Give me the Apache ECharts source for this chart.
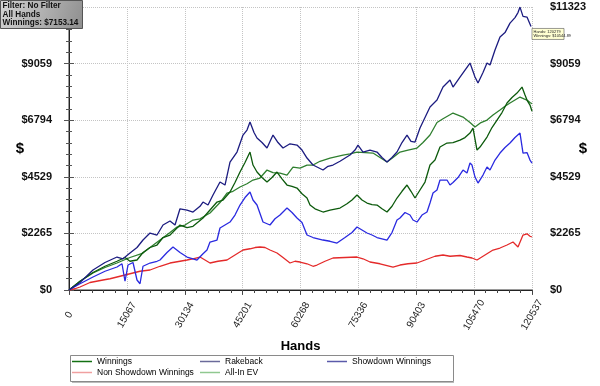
<!DOCTYPE html>
<html><head><meta charset="utf-8">
<script src="https://cdn.jsdelivr.net/npm/echarts@6/dist/echarts.min.js"></script>
<style>html,body{margin:0;padding:0;background:#fff}#c{width:600px;height:386px}</style>
</head><body><div id="c"></div>
<script>
const xTickLabels = ['0','15067','30134','45201','60268','75336','90403','105470','120537'];
const yTickLabels = ['$0','$2265','$4529','$6794','$9059','$11323'];
const X_MAX = 120537, Y_MAX = 11323.3;

const rakeback = [[0,0],[2864,300],[6248,800],[9372,1100],[12496,1320],[14058,1250],[15881,1480],[17703,1700],[19265,2000],[21088,2280],[22910,2200],[24472,2600],[26294,2760],[27596,2600],[28898,3250],[30720,3200],[32282,3120],[34105,3350],[34886,3520],[36187,3400],[37489,3800],[39311,4320],[40613,4200],[41915,5120],[43737,5520],[45299,6200],[46341,6400],[47121,6720],[48163,6300],[48944,6080],[50246,5900],[51547,5680],[53109,6200],[54411,5900],[55713,5680],[57535,5850],[59358,5800],[60659,5600],[61961,5280],[63523,5000],[64825,4900],[66126,4800],[67428,4950],[68730,5000],[70552,5150],[73154,5400],[74456,5600],[75237,5800],[76539,5520],[78362,5600],[80184,5520],[81486,5300],[82788,5120],[84089,5300],[85391,5520],[86693,5900],[87995,6200],[89036,5950],[90078,5920],[91379,6480],[92681,6900],[93983,7320],[95805,7600],[97367,8120],[99189,8400],[99971,8120],[101793,8520],[103095,8800],[104396,9080],[105698,8520],[106479,8280],[107781,8700],[108823,9080],[109604,9000],[110906,9600],[112207,10120],[113509,10300],[114810,10680],[116112,10900],[116893,11100],[117413,11320],[118194,10950],[119236,10920],[120279,10545]];

const showdown = [[0,0],[2864,250],[6248,520],[9372,750],[12496,920],[13798,1050],[14579,350],[15360,1000],[16662,1100],[17703,400],[18484,250],[19265,950],[21088,1080],[22910,1150],[23691,1200],[25513,1500],[27075,1720],[28898,1500],[30720,1320],[32282,1250],[33324,1200],[34886,1450],[35927,1600],[36708,1920],[38530,2000],[39311,2480],[40613,2600],[41915,2720],[43216,3000],[44518,3400],[45820,3700],[47121,3920],[47902,3600],[48944,3400],[50506,2720],[52328,2600],[53630,2850],[54932,3000],[56755,3280],[58056,3100],[59358,2880],[60659,2700],[61961,2200],[63523,2100],[64825,2050],[66126,2000],[67949,1950],[69771,1880],[71853,2100],[73675,2300],[74977,2520],[76278,2400],[77581,2280],[78883,2200],[80184,2100],[81486,2050],[82788,2000],[84089,2300],[85391,2800],[86172,2880],[87474,3100],[88776,3000],[89557,2800],[90598,2720],[91900,3000],[93202,3120],[93983,3480],[94764,3880],[95805,4000],[96586,4400],[98409,4400],[99189,4200],[99971,4300],[101272,4500],[102574,4800],[103615,4680],[104396,5080],[104917,5000],[105698,4520],[106479,4280],[107781,4600],[108823,4920],[109604,4800],[110906,5200],[112207,5480],[113509,5700],[114810,5880],[116112,6100],[117413,6280],[118194,5480],[119236,5500],[120016,5200],[120537,5080]];

const nonShowdown = [[0,0],[1562,50],[2864,120],[5467,300],[8852,400],[10674,450],[12496,520],[14579,600],[16662,680],[18484,750],[21088,800],[23691,950],[26294,1080],[28898,1150],[30720,1200],[32282,1250],[34105,1320],[35406,1200],[36708,1080],[38791,1150],[41134,1200],[43216,1400],[45299,1600],[47121,1650],[48423,1700],[49725,1720],[51027,1700],[52328,1600],[54151,1480],[55713,1300],[57535,1080],[58837,1150],[60138,1120],[61961,1050],[63523,950],[64564,1000],[66647,1150],[68730,1280],[71853,1300],[74977,1320],[76539,1250],[78362,1120],[80965,1050],[84350,920],[86172,1000],[88255,1050],[90598,1080],[92681,1200],[95284,1350],[97367,1400],[99189,1350],[101793,1380],[103615,1320],[104917,1280],[106219,1200],[108302,1400],[110385,1600],[112207,1680],[114029,1800],[115591,1920],[116893,1720],[117413,1800],[118194,2200],[119236,2250],[120016,2150],[120537,2120]];

const winnings = [[0,0],[2864,350],[6248,700],[9372,950],[12496,1150],[14579,1300],[15881,1150],[17703,1200],[19265,1500],[21088,1700],[22910,1800],[24472,2100],[26294,2200],[28898,2600],[30720,2500],[32282,2550],[34886,2880],[36708,3200],[38530,3520],[40092,3600],[41915,3920],[43216,4300],[44518,4720],[45820,5100],[47121,5520],[47902,5000],[48944,4720],[50246,4500],[51547,4320],[52849,4500],[54151,4720],[55453,4450],[56755,4200],[58056,4150],[59358,4080],[60659,3850],[61961,3680],[62742,3400],[64044,3250],[66126,3120],[67949,3200],[70552,3280],[72374,3450],[73675,3600],[74977,3800],[76278,3600],[77581,3480],[78883,3420],[80184,3400],[81486,3250],[82788,3120],[84089,3350],[85391,3680],[86693,3950],[87995,4200],[89036,3950],[90078,3680],[91379,4000],[92681,4320],[93983,5000],[95284,5200],[96586,5720],[98409,5880],[99971,5900],[101793,6000],[103095,6100],[104396,6280],[105177,6480],[106219,5600],[107000,5720],[108823,6120],[110125,6500],[111427,6800],[112728,7100],[114029,7480],[115331,7700],[116632,7880],[117934,8120],[118715,7800],[119236,7600],[120016,7400],[120537,7153]];

const allInEV = [[0,0],[2864,350],[6248,680],[9372,900],[12496,1080],[15881,1300],[19265,1480],[21088,1700],[23691,2000],[26294,2300],[28117,2520],[30199,2600],[32282,2800],[34105,2850],[36708,3080],[39311,3500],[41134,3880],[42696,3950],[44518,4120],[46341,4250],[47902,4400],[49725,4480],[51547,4800],[53109,4700],[54932,4680],[56755,4600],[58316,4920],[60138,4880],[61961,5000],[63523,5000],[65345,5150],[67949,5280],[71333,5400],[73154,5450],[74977,5520],[77060,5500],[79143,5480],[80965,5300],[82788,5120],[84350,5300],[86172,5520],[88255,5600],[90598,5680],[92160,5900],[93983,6200],[95805,6700],[97367,6850],[99971,7080],[101272,7000],[102574,6920],[104396,6700],[105698,6520],[107261,6700],[108823,6800],[110385,7000],[112207,7200],[113509,7350],[114810,7480],[116112,7600],[117413,7720],[118455,7650],[119236,7600],[120016,7500],[120537,7450]];

const infoLines = ['Filter: No Filter','All Hands','Winnings: $7153.14'];
const hoverPoint = [120279, 10544.89];
const hoverLines = ['Hands: 120279','Winnings: $10544.89'];

const FONT = 'Arial, "Liberation Sans", sans-serif';
const xInt = X_MAX / 8, yInt = Y_MAX / 5;
const chart = echarts.init(document.getElementById('c'));

const lineColors = {
  'Winnings': '#0c5a0c',
  'Rakeback': '#1c1c80',
  'Showdown Winnings': '#2a2ae0',
  'Non Showdown Winnings': '#e42a2a',
  'All-In EV': '#2f7f2f'
};
const legendColors = {
  'Winnings': '#137013',
  'Rakeback': '#6a6a9a',
  'Showdown Winnings': '#5a5aaa',
  'Non Showdown Winnings': '#f0a0a0',
  'All-In EV': '#90c890'
};
function mkLegend(names, left) {
  return {
    orient: 'vertical', left: left, top: 356, itemGap: 0,
    icon: 'rect', itemWidth: 20, itemHeight: 1.5,
    textStyle: { fontFamily: FONT, fontSize: 8.5, color: '#000', lineHeight: 11, padding: [0,0,0,0] },
    padding: 0,
    data: names.map(n => ({ name: n, itemStyle: { color: legendColors[n] } }))
  };
}
function mkSeries(name, data, z) {
  return { name, type: 'line', data, showSymbol: false, symbol: 'none', z,
    lineStyle: { width: 1.3, color: lineColors[name] }, itemStyle: { color: lineColors[name] } };
}
const yBase = {
  type: 'value', min: 0, max: Y_MAX, interval: yInt,
  nameMoveOverlap: false,
  nameTextStyle: { fontFamily: FONT, fontSize: 15, fontWeight: 'bold', color: '#000', align: 'center', verticalAlign: 'middle' },
  axisLabel: { fontFamily: FONT, fontSize: 11, fontWeight: 'bold', color: '#111',
    formatter: v => yTickLabels[Math.round(v / yInt)] ?? '' },
  minorTick: { show: true, splitNumber: 5, length: 3, lineStyle: { color: '#555' } },
  axisTick: { show: true, length: 5, lineStyle: { color: '#555' } }
};
const option = {
  animation: false,
  backgroundColor: '#fff',
  grid: { left: 69, right: 68, top: 7, bottom: 96, containLabel: false },
  xAxis: [{
    type: 'value', min: 0, max: X_MAX, interval: xInt, position: 'bottom',
    name: 'Hands', nameLocation: 'middle', nameGap: 50, nameMoveOverlap: false,
    nameTextStyle: { fontFamily: FONT, fontSize: 13, fontWeight: 'bold', color: '#000' },
    axisLine: { show: true, lineStyle: { color: '#9a9a9a', width: 2 } },
    axisTick: { show: true, length: 5, lineStyle: { color: '#555' } },
    minorTick: { show: true, splitNumber: 5, length: 3, lineStyle: { color: '#555' } },
    axisLabel: { rotate: 60, align: 'center', verticalAlign: 'middle', fontFamily: FONT, fontSize: 10, color: '#222', margin: 25,
      formatter: v => xTickLabels[Math.round(v / xInt)] ?? '' },
    splitLine: { show: true, lineStyle: { color: '#c4c4c4', type: 'dotted', width: 1 } }
  }, {
    type: 'value', min: 0, max: X_MAX, interval: xInt, position: 'top',
    axisLine: { show: true, lineStyle: { color: '#222', width: 1 } },
    axisTick: { show: true, inside: true, length: 4, lineStyle: { color: '#444' } },
    minorTick: { show: true, splitNumber: 5, length: 3, lineStyle: { color: '#444' } },
    axisLabel: { show: false }, splitLine: { show: false }
  }],
  yAxis: [Object.assign({}, yBase, {
    position: 'left', name: '$', nameLocation: 'middle', nameGap: 49, nameRotate: 0,
    axisLine: { show: true, lineStyle: { color: '#9a9a9a', width: 2 } },
    axisLabel: Object.assign({}, yBase.axisLabel, { margin: 17 }),
    splitLine: { show: true, lineStyle: { color: '#c4c4c4', type: 'dotted', width: 1 } }
  }), Object.assign({}, yBase, {
    position: 'right', name: '$', nameLocation: 'middle', nameGap: 51, nameRotate: 0,
    axisLine: { show: true, lineStyle: { color: '#222', width: 1 } },
    axisLabel: Object.assign({}, yBase.axisLabel, { margin: 18 }),
    splitLine: { show: false }
  })],
  legend: [
    mkLegend(['Winnings','Non Showdown Winnings'], 72),
    mkLegend(['Rakeback','All-In EV'], 200),
    mkLegend(['Showdown Winnings'], 327)
  ],
  series: [
    mkSeries('All-In EV', allInEV, 2),
    mkSeries('Non Showdown Winnings', nonShowdown, 3),
    mkSeries('Winnings', winnings, 4),
    mkSeries('Showdown Winnings', showdown, 5),
    mkSeries('Rakeback', rakeback, 6)
  ],
  graphic: [
    { type: 'rect', id: 'legendBox', z: 1, shape: { x: 70.5, y: 355.5, width: 383, height: 26 },
      style: { fill: 'none', stroke: '#8a8a8a', lineWidth: 1 } },
    { type: 'rect', id: 'legendShadow', z: 1, shape: { x: 72, y: 382, width: 382, height: 1 },
      style: { fill: '#bbb' } },
    { type: 'rect', id: 'infoBox', z: 100, shape: { x: 0.5, y: 0.5, width: 82, height: 28 },
      style: { fill: { type: 'linear', x: 0, y: 0, x2: 1, y2: 1, colorStops: [{offset:0,color:'#d4d4d4'},{offset:1,color:'#8e8e8e'}] }, stroke: '#555', lineWidth: 1 } },
    ...infoLines.map((t, i) => ({ type: 'text', id: 'info' + i, z: 101, x: 2.5, y: 1.5 + i * 8.8,
        style: { text: t, fill: '#111', font: 'bold 8.2px ' + FONT } }))
  ]
};
chart.setOption(option);
const p = chart.convertToPixel({ xAxisIndex: 0, yAxisIndex: 0 }, hoverPoint);
chart.setOption({ graphic: [
  { type: 'rect', id: 'hoverBox', z: 100, shape: { x: p[0] + 1, y: p[1] + 2, width: 32, height: 11 }, style: { fill: '#ffffd2', stroke: '#555', lineWidth: 0.6 } },
  ...hoverLines.map((t, i) => ({ type: 'text', id: 'hov' + i, z: 101, x: p[0] + 2.5, y: p[1] + 3 + i * 4.6, style: { text: t, fill: '#222', font: '4px ' + FONT } }))
]});
</script></body></html>
